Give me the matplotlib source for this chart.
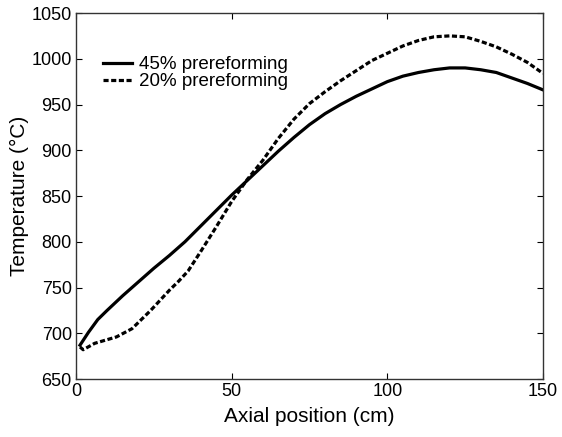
import matplotlib
matplotlib.use("Agg")
import matplotlib.pyplot as plt

plt.rcParams['font.family'] = ['Liberation Sans', 'DejaVu Sans']

# axial position (cm) and temperature (deg C)
x_45 = [1.3, 4, 7, 10, 15, 20, 25, 30, 35, 40, 45, 50, 55, 60, 65, 70, 75, 80,
        85, 90, 95, 100, 105, 110, 115, 120, 125, 130, 135, 140, 145, 150]
t_45 = [687, 701, 715, 725, 741, 756, 771, 785, 800, 817, 834, 851, 867, 883,
        899, 914, 928, 940, 950, 959, 967, 975, 981, 985, 988, 990, 990, 988,
        985, 979, 973, 966]

x_20 = [1.3, 2.3, 6, 10, 13, 18, 24, 30, 33, 36, 40, 45, 50, 55, 60, 65, 70,
        75, 80, 85, 90, 95, 100, 105, 110, 115, 120, 125, 130, 135, 140, 145,
        150]
t_20 = [685, 682, 689, 693, 696, 705, 725, 747, 757, 768, 789, 816, 844, 868,
        889, 913, 934, 951, 964, 976, 987, 998, 1006, 1014, 1020, 1024, 1025,
        1024, 1019, 1013, 1005, 996, 984]

labels = ["45% prereforming", "20% prereforming"]

fig = plt.figure(figsize=(5.62, 4.37), dpi=100)
ax = fig.add_axes([0.1352, 0.1327, 0.8310, 0.8375])

ax.plot(x_45, t_45, color='black', lw=2.3, label=labels[0])
ax.plot(x_20, t_20, color='black', lw=2.3, linestyle=(0, (1.6, 0.8)),
        label=labels[1])

ax.set_xlim(0, 150)
ax.set_ylim(650, 1050)
ax.set_xticks([0, 50, 100, 150])
ax.set_yticks(range(650, 1051, 50))
ax.tick_params(direction='in', top=True, right=True, length=4, width=0.8,
               labelsize=13, pad=3)
for s in ax.spines.values():
    s.set_linewidth(1.0)
    s.set_color('#333333')

ax.set_xlabel("Axial position (cm)", fontsize=15, labelpad=5)
ax.set_ylabel("Temperature (\u00b0C)", fontsize=15, labelpad=2)

ax.legend(loc='upper left', bbox_to_anchor=(0.058, 0.882), frameon=False,
          fontsize=13.5, handlelength=1.55, handletextpad=0.35,
          labelspacing=0.0, borderaxespad=0.0, borderpad=0.0)

fig.savefig("out.png", dpi=100)
plt.close(fig)
